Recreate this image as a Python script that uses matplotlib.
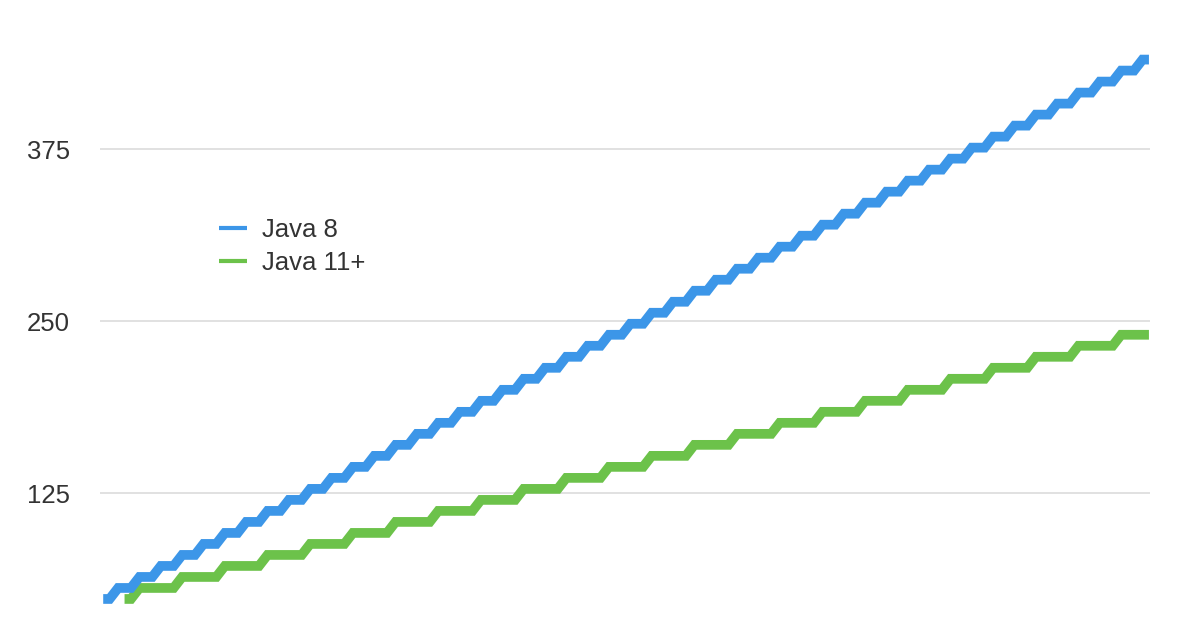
import numpy as np
import matplotlib
matplotlib.use('Agg')
import matplotlib.pyplot as plt

# ------------------- DATA -------------------
java8_x = list(range(0, 50))
java8_mem = [48 + 8 * i for i in range(50)]   # one step per unit

java11_x = list(range(1, 50))
java11_mem = [48, 56, 56, 64, 64, 72, 72, 80, 80, 88, 88, 96, 96, 104, 104,
              112, 112, 120, 120, 128, 128, 136, 136, 144, 144, 152, 152,
              160, 160, 168, 168, 176, 176, 184, 184, 192, 192, 200, 200,
              208, 208, 216, 216, 224, 224, 232, 232, 240, 240]

yticks = [125, 250, 375]

blue = '#3c96e8'
green = '#6cc24a'

plt.rcParams['font.family'] = ['Liberation Sans', 'DejaVu Sans']


def slanted_steps(x, y, slant=0.2):
    # staircase with short diagonal risers between the flat parts
    xs, ys = [], []
    for i, (xi, yi) in enumerate(zip(x, y)):
        left = xi if i == 0 else xi - 0.5 + slant
        right = xi if i == len(x) - 1 else xi + 0.5 - slant
        xs += [left, right]
        ys += [yi, yi]
    return xs, ys


# ------------------- PLOT -------------------
fig = plt.figure(figsize=(11.96, 6.28), dpi=100)
ax = fig.add_axes([100 / 1196, 0, 1050 / 1196, 1])

bx, by = slanted_steps(java8_x, java8_mem)
gx, gy = slanted_steps(java11_x, java11_mem)
ax.plot(bx, by, color=blue, lw=7, solid_joinstyle='miter',
        solid_capstyle='butt', clip_on=False, label='Java 8', zorder=3)
ax.plot(gx, gy, color=green, lw=7, solid_joinstyle='miter',
        solid_capstyle='butt', clip_on=False, label='Java 11+', zorder=2)

ax.set_xlim(-0.15, 49.05)
ax.set_ylim(26.9, 483.3)
ax.set_yticks(yticks)
ax.set_yticklabels([str(t) for t in yticks], fontsize=18.5, color='#333333')
ax.set_xticks([])
ax.tick_params(axis='y', length=0, pad=21.5)
ax.grid(axis='y', color='#dedede', lw=1.3)
ax.set_axisbelow(True)
for s in ax.spines.values():
    s.set_visible(False)

leg = ax.legend(loc='upper left', bbox_to_anchor=(96 / 1050, 1 - 195 / 628),
                frameon=False, fontsize=18.5, handlelength=1.1,
                handletextpad=0.58, labelspacing=0.36, labelcolor='#333333')
for h in leg.get_lines():
    h.set_linewidth(3)

fig.savefig('out.png', dpi=100)
